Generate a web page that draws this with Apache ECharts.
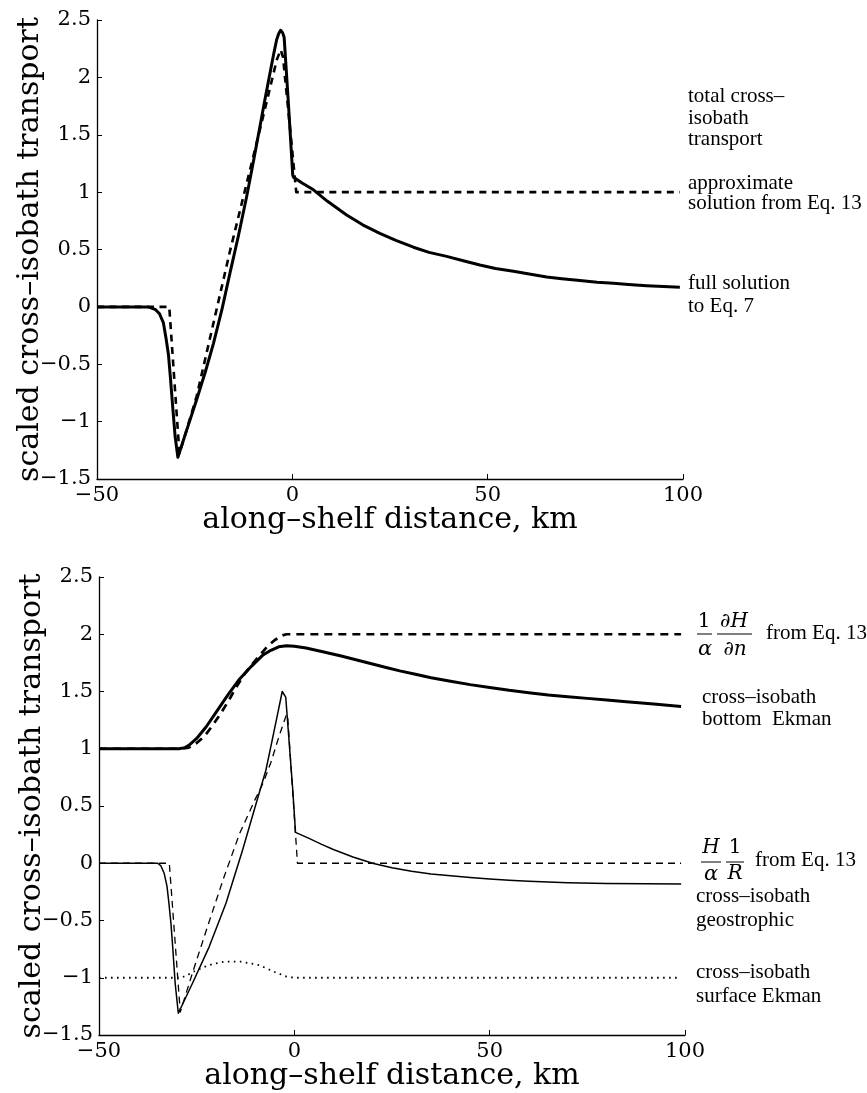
<!DOCTYPE html>
<html>
<head>
<meta charset="utf-8">
<script src="https://cdn.jsdelivr.net/npm/echarts@6/dist/echarts.min.js"></script>
<style>
html,body{margin:0;padding:0;background:#fff;}
#chart{width:867px;height:1093px;}
</style>
</head>
<body>
<div id="chart"></div>
<script>
// ---- data (x = along-shelf distance km, y = scaled transport) ----
const xTicks = [-50, 0, 50, 100];
const yTicks = [-1.5, -1, -0.5, 0, 0.5, 1, 1.5, 2, 2.5];

// top panel
const topFull = [[-50,0],[-40,0],[-37,0],[-36,-0.01],[-35,-0.025],[-34,-0.06],[-33,-0.14],[-32.3,-0.28],[-31.7,-0.42],[-31.2,-0.62],[-30.6,-0.88],[-30,-1.13],[-29.3,-1.31],[-27,-1.07],[-24.5,-0.81],[-22.3,-0.57],[-20.2,-0.32],[-18,-0.02],[-16,0.29],[-13.8,0.62],[-11.7,0.96],[-10,1.26],[-8.3,1.57],[-7,1.81],[-5.7,2.04],[-4.8,2.2],[-4,2.33],[-3.5,2.38],[-3,2.41],[-2.5,2.39],[-2.1,2.35],[-1,1.77],[0.1,1.15],[0.3,1.13],[2.5,1.08],[5.4,1.02],[9,0.92],[13.9,0.80],[18,0.715],[22.4,0.64],[26.5,0.58],[31,0.52],[35,0.475],[39.5,0.44],[44,0.40],[48,0.365],[52,0.335],[56.6,0.31],[61,0.285],[65.1,0.26],[69,0.245],[73.6,0.23],[78,0.215],[82.2,0.205],[86,0.195],[90.7,0.185],[95,0.177],[99.2,0.17]];
const topApprox = [[-50,0],[-31.5,0],[-28.9,-1.28],[-24.5,-0.78],[-16,0.48],[-7.4,1.67],[-4,2.15],[-3,2.24],[-2.4,2.18],[-1,1.7],[1.0,1.0],[99.2,1.0]];

// bottom panel
const bottomEkman = [[-50,1],[-29.5,1],[-28,1.01],[-27,1.03],[-25,1.09],[-22.6,1.19],[-20,1.32],[-17,1.47],[-14,1.61],[-11,1.72],[-8,1.82],[-6,1.86],[-4,1.89],[-2,1.90],[0,1.895],[3,1.88],[7,1.85],[12,1.81],[16,1.775],[20,1.74],[23.5,1.71],[27,1.68],[31,1.65],[35,1.62],[40,1.59],[45,1.56],[50,1.535],[55,1.51],[60,1.49],[65,1.47],[70,1.455],[75,1.44],[80,1.425],[85,1.41],[92,1.39],[99,1.37]];
const bottomEkmanApprox = [[-50,1],[-29,1],[-27,1.01],[-25,1.05],[-23,1.11],[-21,1.2],[-19,1.3],[-17,1.41],[-15,1.53],[-13,1.64],[-11,1.73],[-9,1.81],[-7,1.89],[-5,1.95],[-3,1.99],[-2,2.0],[99,2.0]];
const geostrophic = [[-50,0],[-35,0],[-34.2,-0.02],[-33.3,-0.09],[-32.6,-0.2],[-32.1,-0.35],[-31.6,-0.52],[-31.2,-0.70],[-30.5,-1.05],[-29.7,-1.31],[-26.1,-1.05],[-21.8,-0.73],[-17.5,-0.35],[-13.3,0.11],[-9.8,0.52],[-7.3,0.81],[-6,1.02],[-4.3,1.3],[-3.1,1.5],[-2.2,1.45],[-0.4,0.64],[0.3,0.27],[3.9,0.215],[7,0.165],[10,0.12],[15,0.055],[20,0.0],[25,-0.04],[30,-0.07],[35,-0.093],[40,-0.11],[45,-0.125],[50,-0.138],[55,-0.149],[60,-0.158],[70,-0.17],[80,-0.177],[90,-0.18],[99,-0.182]];
const geostrophicApprox = [[-50,0],[-32,0],[-29.2,-1.3],[-26,-0.95],[-22,-0.53],[-18,-0.12],[-14,0.26],[-10,0.56],[-8,0.70],[-6,0.88],[-4,1.1],[-2,1.3],[-1.7,1.28],[0.8,0],[99,0]];
const surfaceEkman = [[-50,-1],[-29,-1],[-27.5,-0.98],[-26,-0.95],[-22,-0.89],[-18,-0.86],[-13.5,-0.86],[-9,-0.89],[-5,-0.95],[-2,-0.99],[0,-1],[99,-1]];

const axisFont = 'DejaVu Serif';
const noteFont = 'Liberation Serif';
const minusFmt = v => String(v).replace('-', '\u2212');

function xAxisCfg(gi) {
  return {
    type: 'value', gridIndex: gi, min: xTicks[0], max: xTicks[xTicks.length-1], interval: 50,
    name: 'along\u2013shelf distance, km', nameLocation: 'middle', nameGap: 26, nameMoveOverlap: false,
    nameTextStyle: {fontFamily: axisFont, fontSize: 30, color: '#000'},
    axisLine: {show: true, onZero: false, lineStyle: {color: '#000', width: 1.3}},
    axisTick: {show: true, inside: true, length: 5, lineStyle: {color: '#000', width: 1}},
    axisLabel: {fontFamily: axisFont, fontSize: 21, color: '#000', margin: 6, formatter: minusFmt},
    splitLine: {show: false}
  };
}
function yAxisCfg(gi) {
  return {
    type: 'value', gridIndex: gi, min: yTicks[0], max: yTicks[yTicks.length-1], interval: 0.5,
    name: 'scaled cross\u2013isobath transport', nameLocation: 'middle', nameGap: 52, nameRotate: 90,
    nameMoveOverlap: false,
    nameTextStyle: {fontFamily: axisFont, fontSize: 30, color: '#000'},
    axisLine: {show: true, onZero: false, lineStyle: {color: '#000', width: 1.3}},
    axisTick: {show: true, inside: true, length: 5, lineStyle: {color: '#000', width: 1}},
    axisLabel: {fontFamily: axisFont, fontSize: 21, color: '#000', margin: 6, formatter: minusFmt},
    splitLine: {show: false}
  };
}
function lineSeries(data, gi, width, dash) {
  return {
    type: 'line', xAxisIndex: gi, yAxisIndex: gi, data: data,
    showSymbol: false, symbol: 'none', smooth: false, silent: true,
    lineStyle: {color: '#000', width: width, type: dash || 'solid', cap: 'butt', join: 'round'}
  };
}
function txt(x, y, s, opts) {
  opts = opts || {};
  return {type: 'text', x: x, y: y, silent: true, style: {
    text: s, fill: '#000', fontFamily: opts.family || noteFont, fontSize: opts.size || 21,
    fontStyle: opts.italic ? 'italic' : 'normal',
    align: opts.align || 'left', verticalAlign: 'middle'}};
}
function bar(x1, x2, y) {
  return {type: 'line', silent: true, shape: {x1: x1, y1: y, x2: x2, y2: y}, style: {stroke: '#000', lineWidth: 1}};
}

const chart = echarts.init(document.getElementById('chart'), null, {renderer: 'canvas'});
chart.setOption({
  animation: false,
  backgroundColor: '#fff',
  grid: [
    {left: 97, top: 20, width: 586, height: 459, outerBoundsMode: 'none', containLabel: false},
    {left: 99, top: 577, width: 586, height: 458, outerBoundsMode: 'none', containLabel: false}
  ],
  xAxis: [xAxisCfg(0), xAxisCfg(1)],
  yAxis: [yAxisCfg(0), yAxisCfg(1)],
  series: [
    lineSeries(topApprox, 0, 2.6, [7, 5.5]),
    lineSeries(topFull, 0, 3),
    lineSeries(bottomEkmanApprox, 1, 2.7, [8, 6]),
    lineSeries(bottomEkman, 1, 3),
    lineSeries(geostrophicApprox, 1, 1.3, [7, 5]),
    lineSeries(geostrophic, 1, 1.5),
    lineSeries(surfaceEkman, 1, 1.8, [1.6, 4.4])
  ],
  graphic: [
    txt(688, 96, 'total cross\u2013'),
    txt(688, 118, 'isobath'),
    txt(688, 139, 'transport'),
    txt(688, 183, 'approximate'),
    txt(688, 203, 'solution from Eq. 13'),
    txt(688, 283, 'full solution'),
    txt(688, 306, 'to Eq. 7'),

    txt(704, 622, '1', {align: 'center', family: axisFont, size: 20}),
    bar(697, 712, 634),
    txt(705, 650, '\u03b1', {align: 'center', italic: true, family: axisFont, size: 21}),
    txt(734, 622, '\u2202H', {align: 'center', italic: true, family: axisFont, size: 20}),
    bar(717, 752, 634),
    txt(735, 650, '\u2202n', {align: 'center', italic: true, family: axisFont, size: 20}),
    txt(766, 633, 'from Eq. 13'),
    txt(702, 697, 'cross\u2013isobath'),
    txt(702, 719, 'bottom  Ekman'),

    txt(711, 848, 'H', {align: 'center', italic: true, family: axisFont, size: 20}),
    bar(701, 721, 862),
    txt(711, 875, '\u03b1', {align: 'center', italic: true, family: axisFont, size: 21}),
    txt(735, 848, '1', {align: 'center', family: axisFont, size: 20}),
    bar(726, 744, 862),
    txt(735, 874, 'R', {align: 'center', italic: true, family: axisFont, size: 20}),
    txt(755, 860, 'from Eq. 13'),
    txt(696, 896, 'cross\u2013isobath'),
    txt(696, 920, 'geostrophic'),
    txt(696, 972, 'cross\u2013isobath'),
    txt(696, 996, 'surface Ekman')
  ]
});
</script>
</body>
</html>
